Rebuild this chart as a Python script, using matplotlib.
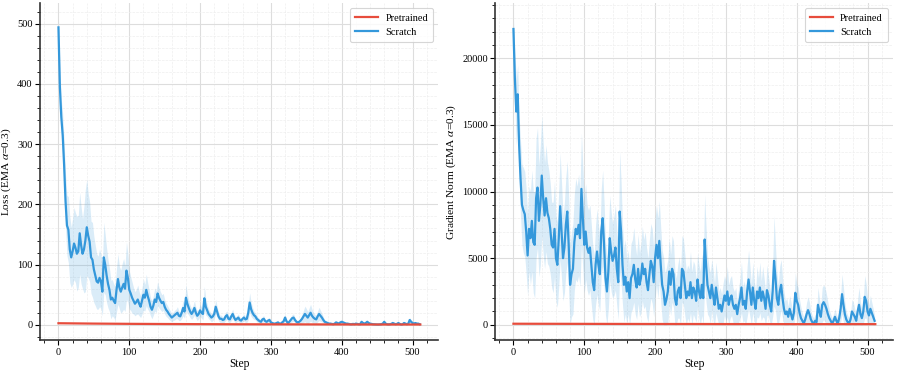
import numpy as np
import matplotlib
matplotlib.use('Agg')
import matplotlib.pyplot as plt

plt.rcParams['font.family'] = ['Liberation Serif', 'DejaVu Serif']
plt.rcParams['mathtext.fontset'] = 'stix'

# steps (every 2nd step logged)
steps = np.arange(0, 512, 2)

loss_scratch = [
    494, 395, 345, 315, 265, 205, 165, 158, 125, 112,
    122, 135, 128, 118, 122, 152, 132, 118, 125, 140,
    162, 148, 138, 112, 108, 92, 82, 72, 70, 78,
    72, 55, 112, 100, 82, 68, 58, 42, 45, 40,
    36, 58, 76, 62, 55, 62, 68, 60, 90, 78,
    58, 52, 45, 40, 35, 38, 42, 35, 30, 40,
    50, 45, 58, 48, 40, 30, 25, 32, 42, 38,
    52, 45, 40, 36, 38, 30, 25, 22, 18, 15,
    12, 14, 16, 18, 20, 15, 14, 20, 28, 22,
    45, 35, 28, 22, 18, 22, 28, 20, 15, 18,
    24, 20, 18, 44, 30, 24, 18, 15, 12, 14,
    18, 30, 22, 14, 10, 10, 8, 9, 14, 16,
    10, 9, 14, 18, 12, 8, 10, 12, 8, 7,
    10, 12, 9, 10, 20, 37, 26, 20, 16, 14,
    10, 8, 6, 5, 9, 10, 6, 5, 7, 8,
    4, 3, 2, 2, 3, 4, 2, 2, 4, 6,
    12, 6, 3, 5, 8, 11, 12, 8, 5, 4,
    5, 7, 10, 14, 18, 15, 12, 16, 20, 15,
    12, 10, 9, 14, 18, 15, 12, 8, 5, 4,
    3, 2, 2, 1.5, 1, 2, 4, 3, 2, 4,
    5, 4, 3, 2, 2, 1.5, 1, 1, 1.5, 1,
    2, 1.5, 1, 1, 5, 3, 2, 3, 5, 3,
    2, 1.5, 1, 0.8, 0.5, 0.5, 0.5, 0.8, 1, 2,
    5, 2, 1, 0.8, 1, 1.5, 3, 2, 1, 1.5,
    3, 1.5, 0.5, 1, 3, 2, 1, 2, 8, 5,
    3, 2, 3, 2, 2, 1,
]

loss_spread = [
    15, 30, 30, 35, 40, 45, 50, 55, 55, 50,
    55, 60, 58, 62, 60, 68, 64, 58, 72, 85,
    80, 70, 66, 60, 62, 55, 50, 46, 44, 48,
    45, 40, 58, 50, 45, 40, 36, 32, 30, 28,
    28, 36, 42, 35, 36, 40, 42, 38, 48, 40,
    32, 28, 26, 22, 20, 21, 24, 20, 18, 22,
    26, 22, 26, 22, 18, 15, 15, 16, 19, 18,
    20, 17, 15, 14, 14, 12, 11, 10, 9, 8,
    7, 7, 8, 8, 10, 8, 7, 10, 13, 11,
    22, 16, 12, 10, 9, 10, 12, 9, 8, 8,
    10, 9, 10, 20, 14, 10, 8, 7, 7, 7,
    8, 12, 9, 7, 6, 6, 5, 5, 7, 7,
    6, 5, 7, 8, 6, 5, 5, 6, 5, 4,
    5, 6, 5, 6, 12, 16, 12, 9, 7, 6,
    5, 4, 4, 3, 5, 5, 3, 3, 4, 4,
    2, 2, 1.5, 1.5, 2, 2, 1.5, 1.5, 2, 3,
    6, 3, 2, 3, 5, 6, 6, 4, 3, 3,
    4, 5, 7, 10, 13, 12, 10, 12, 14, 11,
    9, 7, 7, 9, 11, 9, 7, 5, 3, 3,
    2, 1.5, 1.5, 1, 1, 1.5, 2, 2, 1.5, 2,
    3, 2, 2, 1.5, 1.5, 1, 1, 1, 1, 1,
    1.5, 1, 1, 1, 3, 2, 1.5, 2, 3, 2,
    1.5, 1, 1, 0.8, 0.5, 0.5, 0.5, 0.8, 1, 1.5,
    3, 1.5, 1, 0.8, 1, 1, 2, 1.5, 1, 1,
    2, 1, 0.5, 1, 2, 1.5, 1, 1.5, 4, 3,
    2, 1.5, 2, 1.5, 1.5, 1,
]

grad_scratch = [
    22200, 18500, 16000, 17300, 13500, 11000, 9000, 8600, 8300, 7000,
    5200, 7200, 6500, 7800, 6200, 6000, 9500, 10300, 7800, 9000,
    11200, 9500, 8200, 9500, 8400, 8000, 7200, 6000, 5800, 7200,
    5000, 4500, 6500, 8900, 7000, 5000, 5800, 7500, 8500, 6000,
    3000, 3800, 4200, 6200, 7200, 6800, 7500, 6500, 10200, 8000,
    6000, 7000, 5800, 5400, 5800, 4500, 3200, 2600, 4500, 5500,
    4500, 3800, 7000, 8000, 6000, 3500, 2500, 4000, 6500, 5500,
    4800, 5200, 5800, 4200, 3200, 8500, 7000, 4500, 3000, 3600,
    2500, 3200, 2000, 3500, 3800, 4500, 3400, 2800, 4200, 3000,
    3500, 4600, 3800, 4200, 3200, 2600, 3800, 4800, 4400, 3200,
    5000, 6000, 5000, 6300, 4500, 3000, 2500, 1500, 1900, 2500,
    4000, 3000, 4200, 3800, 2000, 1500, 2500, 2800, 2000, 4200,
    4000, 3000, 2000, 2500, 2200, 3200, 2000, 2800, 2500, 1800,
    3400, 2500, 2000, 3000, 2000, 6400, 4500, 3000, 2500, 2000,
    3000, 2200, 1500, 2800, 2000, 1200, 1500, 1000, 1600, 2200,
    1800, 2500, 1500, 2000, 2200, 1500, 1200, 1500, 800, 1500,
    2000, 2800, 1500, 1800, 1200, 2500, 3400, 2500, 1500, 2800,
    1800, 1200, 2500, 2000, 2800, 1800, 2500, 2000, 1200, 2600,
    2200, 1500, 1000, 2500, 4800, 3500, 2000, 1500, 2500, 3000,
    2000, 1200, 800, 1000, 600, 1200, 800, 400, 900, 2400,
    1800, 1500, 900, 500, 300, 100, 400, 800, 1100, 800,
    400, 200, 100, 300, 200, 1500, 1000, 600, 1500, 1700,
    1500, 1200, 800, 500, 300, 100, 300, 600, 300, 100,
    500, 1200, 2300, 1500, 800, 400, 200, 100, 400, 1000,
    800, 600, 300, 1000, 1500, 800, 500, 1000, 2100, 1800,
    1000, 700, 1200, 900, 600, 300,
]

grad_spread = [
    800, 2000, 2500, 2200, 2200, 2800, 3000, 3200, 3200, 3200,
    3000, 3200, 3500, 3800, 3800, 4000, 4500, 4500, 4200, 4500,
    4500, 4200, 4000, 4000, 3800, 3600, 3400, 3200, 3400, 3600,
    3200, 3200, 3600, 4000, 3600, 3200, 3400, 3600, 3800, 3600,
    3000, 3200, 3400, 3600, 3800, 3600, 3800, 3600, 4200, 3800,
    3600, 3600, 3200, 3200, 3200, 3000, 2800, 2600, 3000, 3200,
    3000, 2800, 3200, 3600, 3200, 2800, 2500, 2800, 3200, 3000,
    2800, 3000, 3200, 2800, 2800, 4500, 3800, 3000, 2800, 2800,
    2400, 2400, 2400, 2600, 2600, 2800, 2600, 2400, 2600, 2400,
    2600, 2800, 2600, 2800, 2600, 2400, 2600, 2800, 2800, 2600,
    3000, 3000, 3000, 3000, 2800, 2600, 2600, 2400, 2400, 2400,
    2500, 2300, 2500, 2500, 2000, 2000, 2000, 2300, 2000, 2500,
    2500, 2300, 2000, 2000, 2000, 2300, 2000, 2000, 2000, 1600,
    2000, 2000, 2000, 2300, 2600, 3400, 2800, 2200, 1900, 1900,
    1900, 1900, 1600, 1900, 1600, 1300, 1300, 1300, 1500, 1500,
    1500, 1900, 1500, 1500, 1500, 1300, 1300, 1300, 1000, 1300,
    1500, 1900, 1300, 1500, 1300, 1900, 2200, 1900, 1500, 1900,
    1500, 1300, 1900, 1500, 1900, 1500, 1900, 1500, 1300, 1900,
    1500, 1300, 1300, 1900, 3400, 2400, 1900, 1500, 1900, 1900,
    1500, 1300, 1000, 1000, 800, 1000, 900, 700, 900, 1500,
    1300, 1300, 1000, 800, 600, 500, 600, 900, 1000, 900,
    600, 500, 400, 500, 500, 1300, 1000, 800, 1300, 1300,
    1300, 1100, 900, 600, 500, 400, 500, 600, 500, 400,
    600, 1000, 1500, 1300, 900, 600, 500, 400, 500, 900,
    900, 600, 500, 900, 1300, 900, 600, 900, 1600, 1300,
    1000, 800, 1000, 800, 600, 400,
]

# pretrained runs stay almost flat
pre_steps = [0, 50, 100, 150, 200, 250, 300, 350, 400, 450, 511]
loss_pretrained = [2.6, 2.0, 1.6, 1.3, 1.1, 0.9, 0.8, 0.7, 0.6, 0.5, 0.5]
grad_pretrained = [80, 75, 70, 65, 60, 60, 55, 55, 50, 50, 50]

RED = '#e74c3c'
BLUE = '#3498db'

fig, (ax1, ax2) = plt.subplots(1, 2, figsize=(8.97, 3.75), dpi=100)
fig.subplots_adjust(left=0.045, right=0.996, bottom=0.093, top=0.992, wspace=0.143)


def draw_panel(ax, scratch, spread, pretrained, ylabel):
    scratch = np.array(scratch, dtype=float)
    spread = np.array(spread, dtype=float)
    lo = np.maximum(scratch - spread, 0)
    hi = scratch + spread
    ax.plot(pre_steps, pretrained, color=RED, lw=1.6, label='Pretrained', zorder=3)
    ax.fill_between(steps, lo, hi, color=BLUE, alpha=0.18, lw=0, zorder=1)
    ax.plot(steps, scratch, color=BLUE, lw=1.6, label='Scratch', zorder=2)
    ax.set_xlabel('Step', fontsize=8.3, labelpad=1)
    ax.set_ylabel(ylabel, fontsize=8.2, labelpad=3)
    ax.minorticks_on()
    ax.grid(which='major', color='#dddddd', lw=0.8)
    ax.grid(which='minor', color='#eeeeee', lw=0.5, ls='--')
    ax.set_axisbelow(True)
    for side in ['top', 'right']:
        ax.spines[side].set_visible(False)
    for side in ['left', 'bottom']:
        ax.spines[side].set_color('#333333')
        ax.spines[side].set_linewidth(1.2)
    ax.tick_params(which='major', labelsize=7.5, length=3.5, width=0.8, pad=2)
    ax.tick_params(which='minor', length=2, width=0.6)
    ax.set_xticks([0, 100, 200, 300, 400, 500])
    leg = ax.legend(loc='upper right', fontsize=7.5, frameon=True, fancybox=True,
                    handlelength=2.2, borderpad=0.5, labelspacing=0.45,
                    handletextpad=0.7, borderaxespad=0.5)
    leg.get_frame().set_edgecolor('#cccccc')
    leg.get_frame().set_linewidth(0.8)


draw_panel(ax1, loss_scratch, loss_spread, loss_pretrained, r'Loss (EMA $\alpha$=0.3)')
draw_panel(ax2, grad_scratch, grad_spread, grad_pretrained, r'Gradient Norm (EMA $\alpha$=0.3)')
ax1.set_yticks([0, 100, 200, 300, 400, 500])
ax2.set_yticks([0, 5000, 10000, 15000, 20000])

fig.savefig('out.png', dpi=100)
